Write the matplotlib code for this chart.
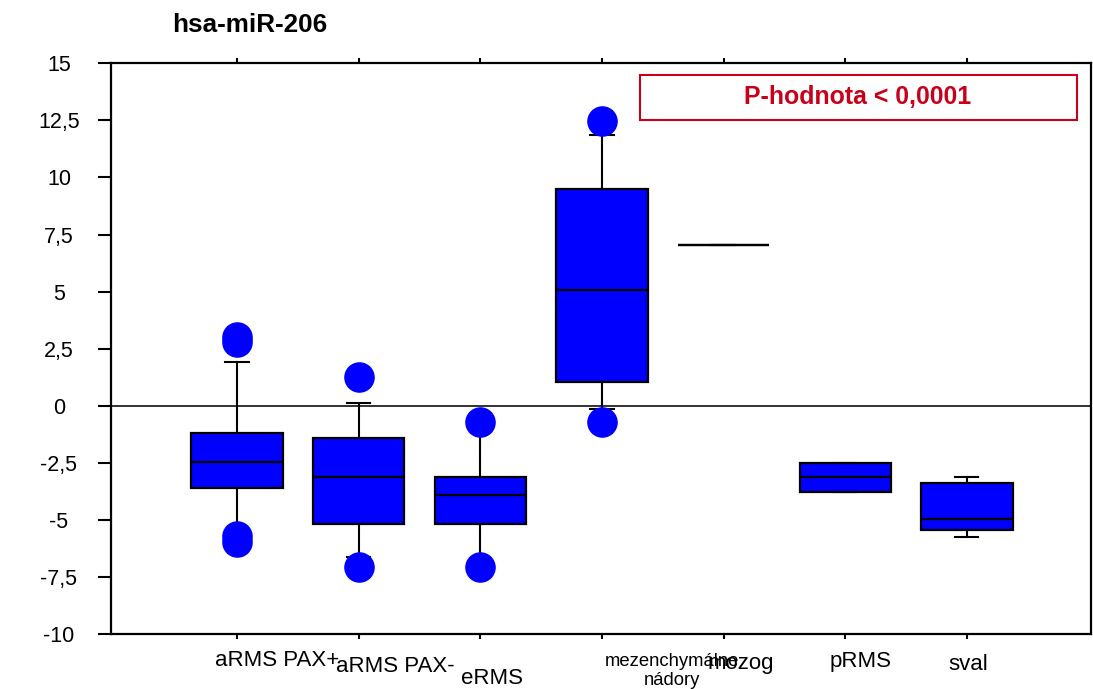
import matplotlib
matplotlib.use("Agg")
import matplotlib.pyplot as plt
from matplotlib import transforms
from matplotlib.patches import Rectangle

plt.rcParams['font.family'] = ['Liberation Sans', 'DejaVu Sans']

# box statistics per group (relative expression)
groups = ['aRMS PAX+', 'aRMS PAX-', 'eRMS', 'mezenchymálne\nnádory', 'mozog', 'pRMS', 'sval']
q1 = [-3.62, -5.18, -5.20, 1.05, 7.03, -3.77, -5.45]
median = [-2.47, -3.11, -3.91, 5.07, 7.03, -3.14, -4.95]
q3 = [-1.18, -1.43, -3.14, 9.49, 7.03, -2.50, -3.40]
whisker_low = [-5.50, -6.64, -6.90, -0.16, 7.03, -3.77, -5.75]
whisker_high = [1.93, 0.10, -0.90, 11.86, 7.03, -2.50, -3.14]
outliers = [
    [3.01, 2.79, -5.69, -5.96],
    [1.27, -7.08],
    [-0.70, -7.07],
    [12.46, -0.70],
    [],
    [],
    [],
]

y_ticks = [15, 12.5, 10, 7.5, 5, 2.5, 0, -2.5, -5, -7.5, -10]
y_tick_labels = ['15', '12,5', '10', '7,5', '5', '2,5', '0', '-2,5', '-5', '-7,5', '-10']

# label placement: shift from tick (px), vertical centre (px), font size
label_dx = [40, 37, 12, 70, 17, 15, 1]
label_y = [660, 666, 678, 671, 663, 661, 665]
label_size = [16, 16, 16, 13.3, 16, 16, 16]

W, H = 1093, 689
fig = plt.figure(figsize=(W / 100, H / 100), dpi=100)
ax_l, ax_r, ax_t, ax_b = 111, 1091, 63.3, 634
ax = fig.add_axes([ax_l / W, 1 - ax_b / H, (ax_r - ax_l) / W, (ax_b - ax_t) / H])

positions = list(range(1, len(groups) + 1))
stats = []
for i in range(len(groups)):
    stats.append(dict(med=median[i], q1=q1[i], q3=q3[i],
                      whislo=whisker_low[i], whishi=whisker_high[i],
                      fliers=outliers[i], label=groups[i]))

ax.axhline(0, color='#222222', lw=1.3, zorder=1)

ax.bxp(stats, positions=positions, widths=0.75, capwidths=0.19,
       patch_artist=True, manage_ticks=False,
       boxprops=dict(facecolor='#0000FF', edgecolor='black', linewidth=1.6),
       medianprops=dict(color='black', linewidth=1.6),
       whiskerprops=dict(color='black', linewidth=1.5),
       capprops=dict(color='black', linewidth=1.5),
       flierprops=dict(marker='o', markerfacecolor='#0000FF', markeredgecolor='#0000FF',
                       markersize=21, linestyle='none'))

ax.set_xlim(-0.036, 8.02)
ax.set_ylim(-10, 15)

for side in ['left', 'right', 'top', 'bottom']:
    ax.spines[side].set_linewidth(1.6)
    ax.spines[side].set_color('black')

ax.set_yticks(y_ticks)
ax.set_yticklabels(y_tick_labels, fontsize=15.5)
ax.tick_params(axis='y', direction='out', length=9.5, width=1.5, pad=28)
for lab in ax.get_yticklabels():
    lab.set_horizontalalignment('center')

ax.set_xticks(positions)
ax.set_xticklabels([''] * len(groups))
ax.tick_params(axis='x', direction='out', length=3.5, width=1.5, top=True, bottom=True)

base = transforms.blended_transform_factory(ax.transData, fig.transFigure)
for i, name in enumerate(groups):
    tr = transforms.offset_copy(base, fig=fig, x=label_dx[i] * 0.72, units='points')
    ax.text(positions[i], 1 - label_y[i] / H, name, transform=tr,
            ha='center', va='center', fontsize=label_size[i],
            linespacing=1.1, clip_on=False)

fig.text(250 / W, 1 - 25 / H, 'hsa-miR-206', ha='center', va='center',
         fontsize=18.8, fontweight='bold')

red = '#C8001A'
box_x0, box_x1, box_y0, box_y1 = 640, 1077, 75, 120
fig.patches.append(Rectangle((box_x0 / W, 1 - box_y1 / H), (box_x1 - box_x0) / W,
                             (box_y1 - box_y0) / H, transform=fig.transFigure,
                             fill=False, edgecolor=red, linewidth=1.5))
fig.text(858 / W, 1 - 97.5 / H, 'P-hodnota < 0,0001', ha='center', va='center',
         fontsize=17.9, fontweight='bold', color=red)

fig.savefig('out.png', dpi=100)
